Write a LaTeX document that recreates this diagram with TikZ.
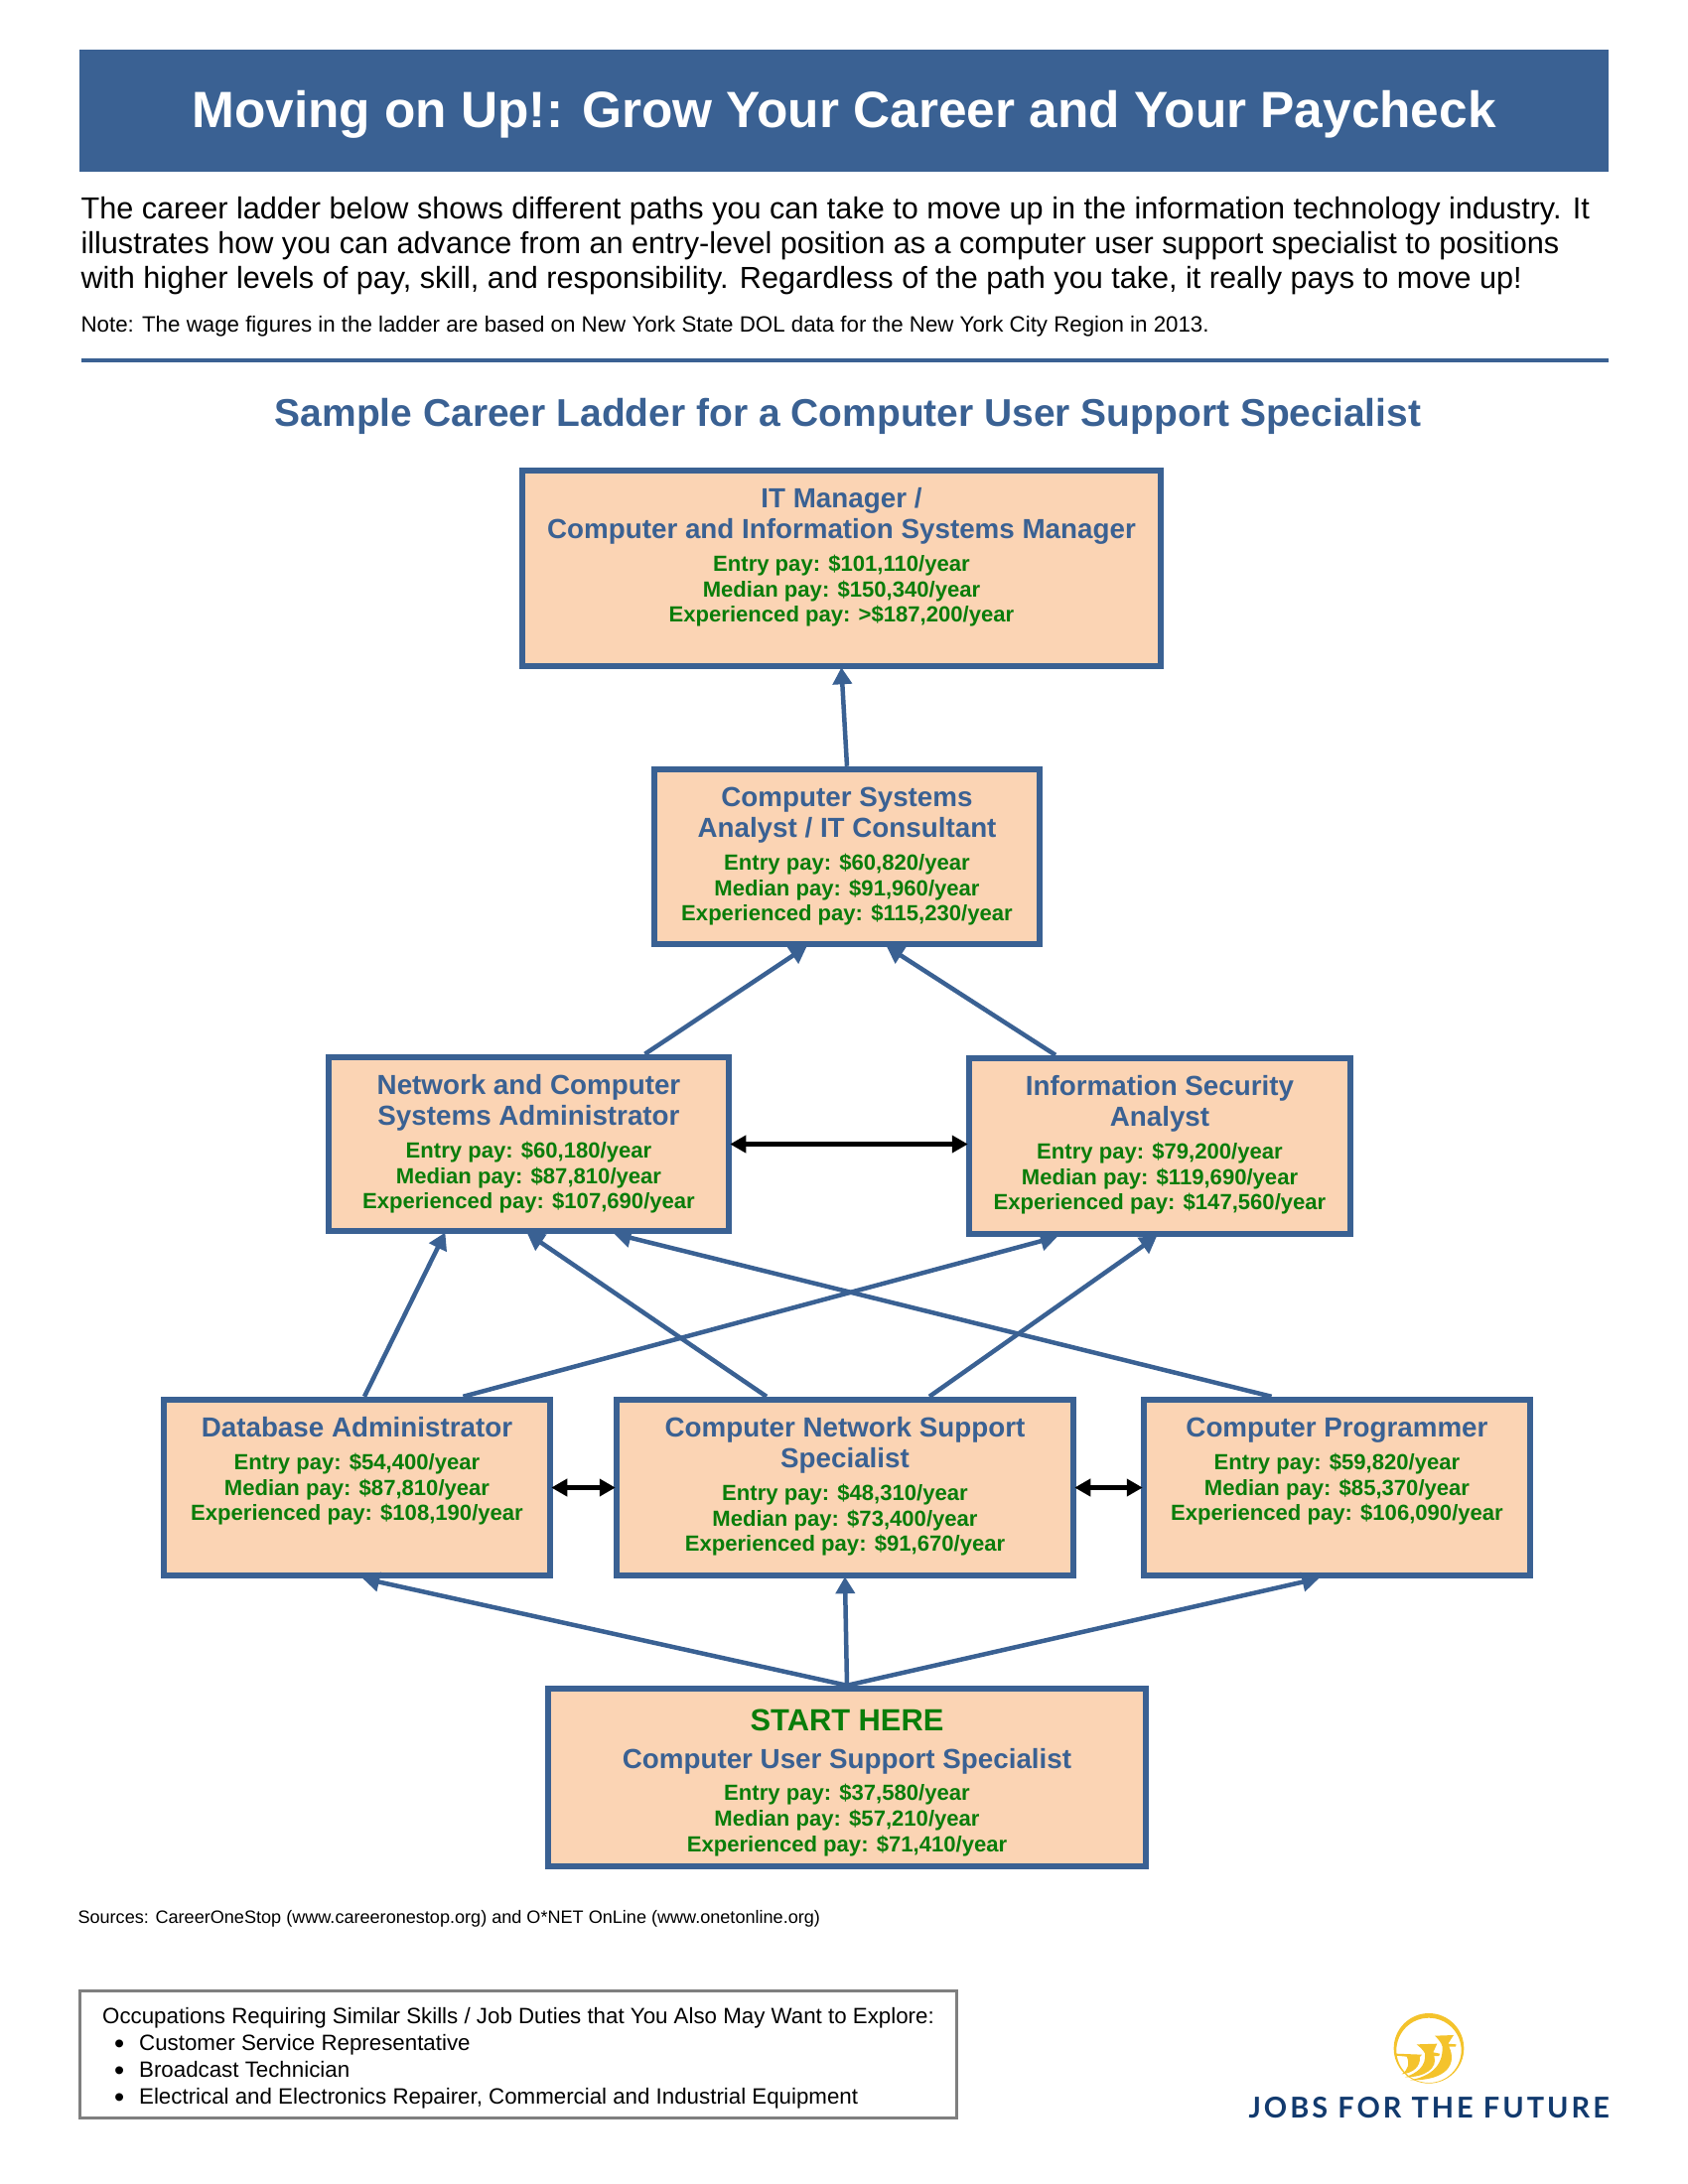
\documentclass[tikz,border=0pt]{standalone}
\usepackage{fontspec}
\setmainfont{Liberation Sans}
\newfontfamily\logofont[LetterSpace=10.5]{Lato}
\usetikzlibrary{arrows.meta,calc}

\definecolor{ladblue}{HTML}{3A6193}
\definecolor{ladpeach}{HTML}{FBD4B4}
\definecolor{ladgreen}{HTML}{0A7D0A}
\definecolor{ladgrey}{HTML}{7F7F7F}
\definecolor{lognavy}{HTML}{123A6E}
\definecolor{loggold}{HTML}{F4C32C}

\newdimen\pxu
\pxu=0.36bp

\newcommand{\rungtext}[6]{%
  \parbox[c][#2\pxu][t]{#1\pxu}{\centering
    \fontsize{10bp}{31\pxu}\selectfont\bfseries\color{ladblue}%
    \rule{0pt}{37.5\pxu}#3\par\vspace{7\pxu}%
    \fontsize{7.95bp}{25.8\pxu}\selectfont\color{ladgreen}%
    Entry pay: #4/year\\Median pay: #5/year\\Experienced pay: #6/year\par}}
\newcommand{\explorebullet}{\hspace*{12\pxu}\makebox[25\pxu][l]{\raisebox{-3.5\pxu}{\scalebox{1.3}{\textbullet}}}}

\begin{document}
\begin{tikzpicture}[
        x=0.36bp, y=-0.36bp,
        banner/.style={fill=ladblue, text=white, inner sep=0pt, minimum width=1540*0.36bp, minimum height=123*0.36bp, font=\fontsize{18.5bp}{22bp}\selectfont\bfseries},
        rung/.style={rectangle, draw=ladblue, fill=ladpeach, line width=6.5*0.36bp, inner sep=0pt},
        arrow/.style={-{Triangle[length=17*0.36bp, width=19*0.36bp]}, draw=ladblue, line width=4.5*0.36bp, shorten >=-2*0.36bp},
        both/.style={{Triangle[length=16*0.36bp, width=17*0.36bp]}-{Triangle[length=16*0.36bp, width=17*0.36bp]}, line width=4.2*0.36bp, shorten >=-2*0.36bp, shorten <=-2*0.36bp}
    ]
        \useasboundingbox (0,0) rectangle (1700,2200);

        \node[banner] (banner) at (850,111.5) {\rule{0pt}{44\pxu}Moving on Up!: Grow Your Career and Your Paycheck};
        \node[anchor=west, inner sep=0pt, align=left, font=\fontsize{11.02bp}{35\pxu}\selectfont] (intro) at (81,248) {The career ladder below shows different paths you can take to move up in the information technology industry. It\\illustrates how you can advance from an entry-level position as a computer user support specialist to positions\\with higher levels of pay, skill, and responsibility. Regardless of the path you take, it really pays to move up!};
        \node[anchor=base west, inner sep=0pt, font=\fontsize{8.03bp}{9bp}\selectfont] (note) at (81,334) {Note: The wage figures in the ladder are based on New York State DOL data for the New York City Region in 2013.};
        \coordinate (ruleleft) at (82,363);
        \coordinate (ruleright) at (1620,363);
        \draw[ladblue, line width=3.5*0.36bp] (ruleleft) -- (ruleright);
        \node[anchor=base, inner sep=0pt, text=ladblue, font=\fontsize{14.03bp}{17bp}\selectfont\bfseries] (heading) at (854,429) {Sample Career Ladder for a Computer User Support Specialist};

        \node[rung] (itmanager) at (847.5,572.5) {\rungtext{643}{197}{IT Manager /\\Computer and Information Systems Manager}{\$101,110}{\$150,340}{>\$187,200}};
        \node[rung] (analyst) at (853,863) {\rungtext{388}{176}{Computer Systems\\Analyst / IT Consultant}{\$60,820}{\$91,960}{\$115,230}};
        \node[rung] (network) at (532.5,1152.5) {\rungtext{403}{175}{Network and Computer\\Systems Administrator}{\$60,180}{\$87,810}{\$107,690}};
        \node[rung] (infosec) at (1168,1154.5) {\rungtext{384}{177}{Information Security\\Analyst}{\$79,200}{\$119,690}{\$147,560}};
        \node[rung] (database) at (359.5,1498.5) {\rungtext{389}{177}{Database Administrator}{\$54,400}{\$87,810}{\$108,190}};
        \node[rung] (support) at (851,1498.5) {\rungtext{460}{177}{Computer Network Support\\Specialist}{\$48,310}{\$73,400}{\$91,670}};
        \node[rung] (programmer) at (1346.5,1498.5) {\rungtext{389}{177}{Computer Programmer}{\$59,820}{\$85,370}{\$106,090}};
        \node[rung] (start) at (853,1790.5) {\rungtext{602}{179}{{\rule{0pt}{42\pxu}\fontsize{11.1bp}{31\pxu}\selectfont\color{ladgreen}START HERE}\\[7\pxu]Computer User Support Specialist}{\$37,580}{\$57,210}{\$71,410}};

        \draw[arrow] (analyst.north) -- (itmanager.south);
        \draw[arrow] ($(network.north)+(117,0)$) -- ($(analyst.south)+(-42,0)$);
        \draw[arrow] ($(infosec.north)+(-105,0)$) -- ($(analyst.south)+(41.5,0)$);
        \draw[arrow] ($(database.north)+(7.5,0)$) -- ($(network.south)+(-85,0)$);
        \draw[arrow] ($(database.north)+(107,0)$) -- ($(infosec.south)+(-105,0)$);
        \draw[arrow] ($(support.north)+(-79,0)$) -- (network.south);
        \draw[arrow] ($(support.north)+(85,0)$) -- ($(infosec.south)+(-4.5,0)$);
        \draw[arrow] ($(programmer.north)+(-66,0)$) -- ($(network.south)+(88,0)$);
        \draw[arrow] (start.north) -- ($(database.south)+(7.5,0)$);
        \draw[arrow] (start.north) -- (support.south);
        \draw[arrow] (start.north) -- ($(programmer.south)+(-20,0)$);
        \draw[both] (network.east) -- (network.east -| infosec.west);
        \draw[both] (database.east) -- (support.west);
        \draw[both] (support.east) -- (programmer.west);

        \node[anchor=base west, inner sep=0pt, font=\fontsize{6.51bp}{9bp}\selectfont] (sources) at (78,1937) {Sources: CareerOneStop (www.careeronestop.org) and O*NET OnLine (www.onetonline.org)};

        \node[rectangle, draw=ladgrey, line width=3*0.36bp, anchor=north west, inner sep=0pt, minimum width=883*0.36bp, minimum height=128*0.36bp, align=left, font=\fontsize{8.03bp}{27\pxu}\selectfont] (explore) at (79,2004) {\rule{0pt}{23\pxu}Occupations Requiring Similar Skills / Job Duties that You Also May Want to Explore:\\
            \explorebullet Customer Service Representative\\
            \explorebullet Broadcast Technician\\
            \explorebullet Electrical and Electronics Repairer, Commercial and Industrial Equipment};

        % logo
        \begin{scope}[shift={(1390,2020)}, x=0.12bp, y=-0.12bp]
            \fill[loggold, even odd rule] (147,130) circle (106) (147,136) circle (98);
            \fill[loggold] (165,92) -- (222,90) -- (205,116) -- (230,118) -- (228,125) -- (208,125) .. controls (232,175) and (205,228) .. (90,226) .. controls (150,215) and (190,185) .. (188,125) .. controls (185,112) and (175,102) .. (165,92) -- cycle;
            \fill[loggold] (110,118) -- (172,116) -- (160,142) -- (180,146) -- (178,153) -- (163,153) .. controls (175,190) and (135,218) .. (75,217) .. controls (110,205) and (140,185) .. (135,145) .. controls (130,135) and (120,126) .. (110,118) -- cycle;
            \fill[loggold] (48,146) -- (126,149) -- (120,156) .. controls (122,185) and (100,205) .. (65,208) .. controls (85,195) and (90,175) .. (80,155) -- (48,152) -- cycle;
        \end{scope}
        \node[anchor=base west, inner sep=0pt, text=lognavy, font=\logofont\fontsize{10.4bp}{12bp}\selectfont\bfseries] (jff) at (1257,2133) {JOBS FOR THE FUTURE};
    \end{tikzpicture}
\end{document}
